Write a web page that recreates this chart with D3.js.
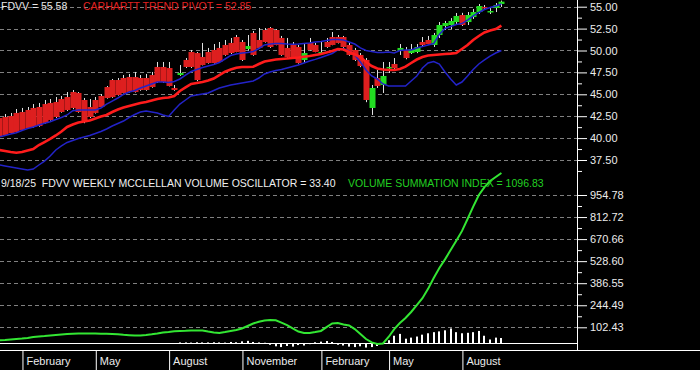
<!DOCTYPE html>
<html><head><meta charset="utf-8">
<script src="https://cdn.jsdelivr.net/npm/d3@7"></script>
<style>html,body{margin:0;padding:0;background:#000;overflow:hidden}svg{display:block}</style>
</head><body><svg id="c" width="700" height="370"></svg>
<script>
const symbol = "FDVV";
const asOf = "9/18/25";
const startWeek = new Date(2024,0,5), endWeek = new Date(2025,8,19);

const open=[42.29,42.41,42.52,42.87,42.98,43.21,43.44,43.55,43.89,44.01,
44.12,44.46,44.69,45.26,45.15,44.35,43.55,44.35,44.81,45.83,
46.63,46.63,46.86,46.97,46.97,46.86,46.86,47.20,48.12,48.12,
48.00,45.72,47.20,48.92,49.83,49.71,49.26,49.83,50.06,50.29,
50.63,50.86,51.54,50.97,50.17,52.00,51.20,52.34,52.57,52.34,
51.43,50.29,50.63,50.40,48.92,50.86,50.63,49.71,50.97,51.54,
51.54,51.54,50.63,50.06,49.49,48.92,43.44,46.86,46.06,48.00,
48.46,49.94,50.06,49.71,49.83,50.97,51.20,50.63,51.77,52.80,
52.91,53.25,54.05,53.25,53.82,54.39,54.97,54.39,54.85,55.31];
const high=[42.52,42.75,42.87,43.32,43.44,43.55,43.89,44.01,44.35,44.46,
44.69,44.81,45.26,45.49,45.26,44.58,44.46,44.69,45.03,45.95,
46.75,46.86,47.20,47.32,47.55,47.20,47.32,47.55,48.69,48.69,
48.69,46.06,48.34,49.14,50.06,49.83,50.86,50.29,50.74,50.97,
51.20,51.43,51.77,51.20,51.77,52.23,52.57,52.57,52.68,52.45,
51.66,51.43,50.97,50.63,50.86,51.43,50.86,50.97,51.43,52.11,
51.77,51.66,50.86,50.29,49.71,49.14,46.06,47.77,48.69,48.69,
49.14,50.74,50.40,50.74,50.74,51.54,51.66,52.00,53.25,53.37,
53.70,54.28,54.30,54.39,54.74,55.31,55.19,54.97,55.42,55.70];
const low=[40.01,40.25,40.50,40.60,40.85,41.05,41.20,41.30,41.65,42.00,
42.30,42.90,43.10,43.30,42.90,41.70,42.30,42.80,43.50,44.50,
44.60,44.85,45.10,45.20,45.20,45.40,45.40,45.75,46.30,46.30,
45.90,45.40,47.10,48.00,48.00,46.50,48.30,48.50,48.50,48.60,
49.40,49.60,49.80,48.80,50.00,49.40,50.20,50.90,50.30,50.60,
49.40,49.20,49.10,48.50,48.57,50.00,49.80,49.60,50.30,50.60,
50.80,50.30,49.40,48.80,48.10,44.10,42.64,45.72,45.15,47.43,
47.90,49.49,49.00,49.60,49.70,50.50,50.70,50.40,51.43,52.34,
52.45,53.00,52.80,52.91,53.60,54.17,54.70,54.17,54.39,54.97];
const close=[40.13,40.35,40.58,40.70,40.93,41.15,41.27,41.38,41.72,42.07,
42.41,42.98,43.21,43.44,42.98,41.84,42.41,42.87,43.55,44.58,
44.69,44.92,45.15,45.26,45.26,45.49,45.49,45.83,46.40,46.40,
45.95,45.49,47.43,48.12,48.12,46.63,48.34,48.57,48.57,48.69,
49.49,49.71,49.83,48.92,50.51,49.49,50.29,50.97,50.40,50.63,
49.49,49.26,49.14,48.57,49.71,50.06,49.83,49.83,50.40,50.63,
50.86,50.40,49.49,48.92,48.23,44.35,45.72,45.95,47.09,48.12,
48.00,50.29,49.14,50.17,50.40,50.63,50.74,51.77,52.91,53.14,
53.37,53.94,52.91,54.05,54.39,55.08,54.85,54.51,55.19,55.58];

const pivot=[38.64,38.53,38.41,38.33,38.41,38.58,38.76,39.21,39.55,39.90,
40.30,40.75,41.27,41.55,41.78,41.89,42.01,42.24,42.47,42.64,
42.98,43.27,43.49,43.66,43.83,44.01,44.12,44.29,44.46,44.58,
44.63,44.81,45.38,45.78,46.18,46.29,46.40,46.57,46.80,47.20,
47.58,47.83,48.04,48.12,48.12,48.15,48.46,48.74,48.86,48.97,
49.03,49.09,49.14,49.20,49.29,49.37,49.49,49.60,49.77,49.94,
50.17,50.11,49.83,49.54,49.26,48.69,48.23,47.94,47.83,47.77,
47.77,47.89,48.15,48.57,48.97,49.26,49.43,49.49,49.54,49.60,
49.64,49.71,50.17,50.63,51.20,51.66,52.06,52.28,52.45,52.85];
const upperBand=[40.13,40.30,40.47,40.62,40.87,41.10,41.27,41.50,41.69,41.87,
42.12,42.35,42.64,43.13,43.21,43.21,43.21,43.21,43.44,43.89,
44.23,44.58,44.98,45.26,45.43,45.72,45.95,46.18,46.40,46.40,
46.35,46.46,46.75,47.20,47.60,47.83,48.06,48.23,48.40,48.63,
49.03,49.43,49.60,49.71,49.77,49.89,50.23,50.63,50.74,50.80,
50.80,50.74,50.71,50.74,50.80,50.86,50.97,51.03,51.14,51.26,
51.26,51.20,50.97,50.74,50.29,50.00,49.89,49.77,49.77,49.83,
49.71,50.00,50.06,50.06,50.29,50.46,50.63,50.80,51.83,52.51,
52.74,52.97,53.08,53.48,53.94,54.34,54.68,54.91,55.08,55.31];
const lowerBand=[36.93,36.81,36.70,36.59,36.47,36.36,36.47,36.93,37.38,37.96,
38.64,39.10,39.50,39.73,39.95,40.13,40.30,40.52,40.75,41.04,
41.38,41.67,41.95,42.35,42.69,42.98,43.09,42.98,42.87,42.64,
42.47,43.21,43.89,44.35,44.81,44.92,45.03,45.15,45.43,45.72,
45.89,46.06,46.18,46.29,46.40,46.52,46.86,47.32,47.55,47.72,
47.83,48.00,48.17,48.34,48.57,48.80,48.99,49.20,49.43,49.66,
50.06,50.23,49.94,49.49,48.69,47.77,47.09,46.75,46.18,45.95,
45.95,45.95,45.95,46.52,47.09,48.00,48.57,48.74,48.46,47.55,
46.75,46.06,46.40,47.09,47.83,48.46,48.92,49.37,49.71,50.00];

const summation=[19,21,24,27,30,34,40,43,46,50,
53,56,59,61,62,62,62,62,61,61,
60,58,54,52,50,50,53,57,62,69,
72,77,79,80,82,82,82,75,69,66,
72,79,85,95,111,127,138,146,149,148,
133,117,95,75,66,66,72,79,104,127,
130,120,114,91,59,27,5,-5,-2,40,
91,130,162,201,246,290,350,420,485,540,
600,660,722,800,880,955,1006,1045,1071,1096.83];
const oscillator=[0,0,0,0,0,0,0,0,0,0,
0,0,0,0,0,0,-5,-5,-5,-5,
-5,-5,-5,-5,-5,-5,0,0,0,0,
0,0,5,5,4,6,5,5,6,5,
4,8,6,12,15,8,5,3,-10,-20,
-25,-18,-22,-12,-15,-6,6,10,14,8,
-10,-15,-22,-25,-20,-28,-25,-18,-5,19,
48,60,29,36,43,55,64,71,76,83,
95,71,64,67,71,79,48,24,36,33.40];

const priceTicks=[37.5,40,42.5,45,47.5,50,52.5,55];
const sumTicks=[102.43,244.49,386.55,528.60,670.66,812.72,954.78];

const dates = d3.timeFriday.range(startWeek, d3.timeDay.offset(endWeek,1));
const monthTicks = dates.filter((d,i)=> i>0 && d.getMonth()!==dates[i-1].getMonth() && d.getMonth()%3===1);

const svg = d3.select("#c");
const FONT = "Arial, 'Liberation Sans', sans-serif";
const axisX = 577;
const x = d3.scaleTime().domain([startWeek,endWeek]).range([-0.6,501.4]);
const yP = d3.scaleLinear().domain([37.5,55]).range([160,6.7]);
const yS = d3.scaleLinear().domain([0,954.78]).range([343.2,195]);

svg.append("rect").attr("width",700).attr("height",370).attr("fill","#000");
const defs = svg.append("defs");
defs.append("clipPath").attr("id","cTop").append("rect").attr("x",0).attr("y",0).attr("width",axisX).attr("height",176);
defs.append("clipPath").attr("id","cBot").append("rect").attr("x",0).attr("y",168).attr("width",axisX).attr("height",182);

// gridlines
const grid = svg.append("g").attr("stroke","#808080").attr("stroke-width",1).attr("stroke-dasharray","4,3");
grid.selectAll(".gp").data(priceTicks).join("line")
  .attr("x1",0).attr("x2",axisX).attr("y1",d=>Math.round(yP(d))+0.5).attr("y2",d=>Math.round(yP(d))+0.5);
grid.selectAll(".gs").data(sumTicks).join("line")
  .attr("x1",0).attr("x2",axisX).attr("y1",d=>Math.round(yS(d))+0.5).attr("y2",d=>Math.round(yS(d))+0.5);

// top panel
const topG = svg.append("g").attr("clip-path","url(#cTop)");
const idx = d3.range(dates.length);
topG.append("g").selectAll("line").data(idx).join("line")
  .attr("x1",i=>Math.round(x(dates[i]))+0.5).attr("x2",i=>Math.round(x(dates[i]))+0.5)
  .attr("y1",i=>yP(high[i])).attr("y2",i=>yP(low[i]))
  .attr("stroke","#e0e0e0").attr("stroke-width",1);
topG.append("g").selectAll("rect").data(idx).join("rect")
  .attr("x",i=>Math.round(x(dates[i]))-2.5).attr("width",6)
  .attr("y",i=>yP(Math.max(open[i],close[i])))
  .attr("height",i=>Math.max(1.5,Math.abs(yP(open[i])-yP(close[i]))))
  .attr("fill",i=>close[i]>=open[i]?"#22dd22":"#dd1f1f");
const lineP = arr => d3.line().x((d,i)=>x(dates[i])).y(d=>yP(d))(arr);
topG.append("path").attr("d",lineP(lowerBand)).attr("fill","none").attr("stroke","#2323c8").attr("stroke-width",1.5);
topG.append("path").attr("d",lineP(upperBand)).attr("fill","none").attr("stroke","#2323c8").attr("stroke-width",1.5);
topG.append("path").attr("d",lineP(pivot)).attr("fill","none").attr("stroke","#ff1c1c").attr("stroke-width",2.6);

// bottom panel
const botG = svg.append("g").attr("clip-path","url(#cBot)");
botG.append("line").attr("x1",0).attr("x2",axisX).attr("y1",Math.round(yS(0))+0.5).attr("y2",Math.round(yS(0))+0.5)
  .attr("stroke","#ffffff").attr("stroke-width",1);
botG.append("g").selectAll("rect").data(idx.filter(i=>oscillator[i]!==0)).join("rect")
  .attr("x",i=>Math.round(x(dates[i]))-1).attr("width",2)
  .attr("y",i=>yS(Math.max(0,oscillator[i])))
  .attr("height",i=>Math.abs(yS(oscillator[i])-yS(0)))
  .attr("fill","#ffffff");
botG.append("path").attr("d",d3.line().x((d,i)=>x(dates[i])).y(d=>yS(d))(summation))
  .attr("fill","none").attr("stroke","#33e633").attr("stroke-width",2);

// axes
svg.append("line").attr("x1",axisX+0.5).attr("x2",axisX+0.5).attr("y1",0).attr("y2",350).attr("stroke","#fff");
svg.append("line").attr("x1",0).attr("x2",700).attr("y1",350.5).attr("y2",350.5).attr("stroke","#fff");

function styleAxis(g){
  g.select(".domain").remove();
  g.selectAll("line").attr("stroke","#fff");
  g.selectAll("text").attr("fill","#ececec").style("font-family",FONT).style("font-size","11px");
}
const priceMinor = priceTicks.map(v=>v-1.25).concat([55+1.25]);
const sumMinor = sumTicks.slice(1).map((v,i)=>(v+sumTicks[i])/2);
svg.append("g").attr("transform",`translate(${axisX},0)`)
  .call(d3.axisRight(yP).tickValues(priceTicks).tickSize(10).tickPadding(3).tickFormat(d3.format(".2f"))).call(styleAxis);
svg.append("g").attr("transform",`translate(${axisX},0)`)
  .call(d3.axisRight(yP).tickValues(priceMinor.filter(v=>yP(v)>0 && yP(v)<176)).tickSize(5).tickFormat("")).call(styleAxis);
svg.append("g").attr("transform",`translate(${axisX},0)`)
  .call(d3.axisRight(yS).tickValues(sumTicks).tickSize(10).tickPadding(3).tickFormat(d3.format(".2f"))).call(styleAxis);
svg.append("g").attr("transform",`translate(${axisX},0)`)
  .call(d3.axisRight(yS).tickValues(sumMinor).tickSize(5).tickFormat("")).call(styleAxis);

const xa = svg.append("g").attr("transform","translate(0,350)")
  .call(d3.axisBottom(x).tickValues(monthTicks).tickSize(20).tickFormat(d3.timeFormat("%B")));
styleAxis(xa);
xa.selectAll(".tick line").attr("transform","translate(0.5,0)");
xa.selectAll(".tick text").attr("text-anchor","start").attr("x",4).attr("y",7).attr("dy","0.71em");

// header texts
const T = (tx,ty,s,col)=>svg.append("text").attr("x",tx).attr("y",ty).attr("fill",col)
  .style("font-family",FONT).style("font-size","10.5px").style("white-space","pre").text(s);
T(1,10,`${symbol} = ${close[close.length-1].toFixed(2)}`,"#e6e6e6");
T(83,10,`CARHARTT TREND PIVOT = ${pivot[pivot.length-1].toFixed(2)}`,"#e02020");
T(1,187,`${asOf}  ${symbol} WEEKLY MCCLELLAN VOLUME OSCILLATOR = ${oscillator[oscillator.length-1].toFixed(2)}`,"#f0f0f0");
T(348,187,`VOLUME SUMMATION INDEX = ${summation[summation.length-1].toFixed(2)}`,"#22d022");
</script></body></html>
